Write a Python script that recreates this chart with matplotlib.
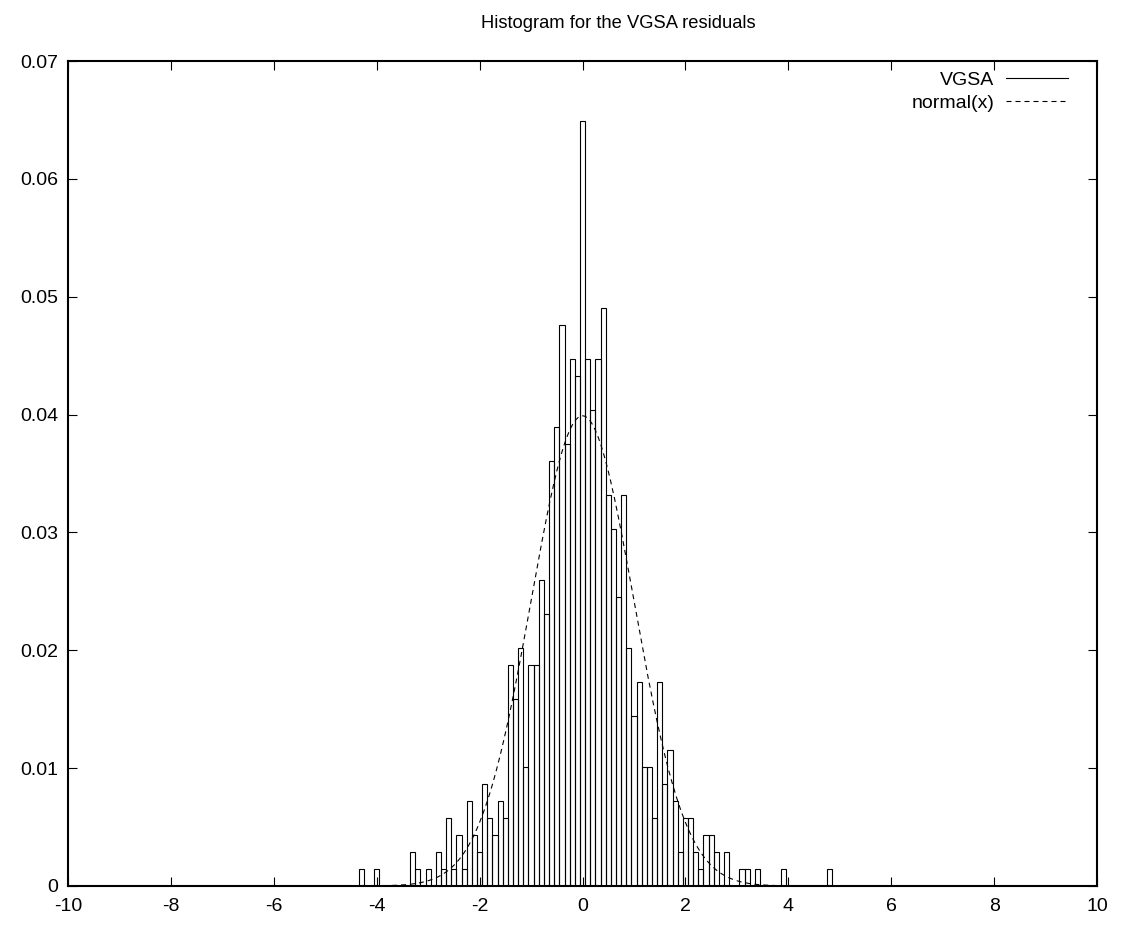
import numpy as np
import matplotlib
matplotlib.use('Agg')
import matplotlib.pyplot as plt
from matplotlib.lines import Line2D

# histogram of the VGSA residuals (bin centres, counts per bin of width 0.1)
bin_centers = [-4.3, -4.0, -3.3, -3.2, -3.0, -2.8, -2.7, -2.6, -2.5, -2.4,
               -2.3, -2.2, -2.1, -2.0, -1.9, -1.8, -1.7, -1.6, -1.5, -1.4,
               -1.3, -1.2, -1.1, -1.0, -0.9, -0.8, -0.7, -0.6, -0.5, -0.4,
               -0.3, -0.2, -0.1, 0.0, 0.1, 0.2, 0.3, 0.4, 0.5, 0.6,
               0.7, 0.8, 0.9, 1.0, 1.1, 1.2, 1.3, 1.4, 1.5, 1.6,
               1.7, 1.8, 1.9, 2.0, 2.1, 2.2, 2.3, 2.4, 2.5, 2.6,
               2.8, 3.1, 3.2, 3.4, 3.9, 4.8]
bin_counts = [1, 1, 2, 1, 1, 2, 1, 4, 1, 3,
              1, 5, 3, 2, 6, 4, 3, 5, 4, 13,
              11, 14, 7, 13, 13, 18, 16, 25, 27, 33,
              26, 31, 30, 45, 31, 28, 31, 34, 23, 21,
              17, 23, 14, 10, 12, 7, 7, 4, 12, 6,
              8, 5, 2, 4, 4, 2, 1, 3, 3, 2,
              2, 1, 1, 1, 1, 1]
bin_width = 0.1

# normal(x): standard normal density times the bin width
mu = 0.0
sigma = 1.0

x_ticks = [-10, -8, -6, -4, -2, 0, 2, 4, 6, 8, 10]
y_ticks = [0, 0.01, 0.02, 0.03, 0.04, 0.05, 0.06, 0.07]

plt.rcParams['font.family'] = ['Liberation Sans Narrow', 'Liberation Sans', 'DejaVu Sans']
fs = 14
title_fs = 13.2

freq = np.array(bin_counts) / float(sum(bin_counts))

fig = plt.figure(figsize=(11.3, 9.32), dpi=100)
ax = fig.add_axes([0.0602, 0.0494, 0.9106, 0.8851])

ax.bar(bin_centers, freq, width=bin_width, fill=False,
       edgecolor='black', linewidth=0.8)

xs = np.linspace(-10, 10, 801)
normal = bin_width * np.exp(-0.5 * ((xs - mu) / sigma) ** 2) / (sigma * np.sqrt(2 * np.pi))
ax.plot(xs, normal, color='black', linewidth=0.8, linestyle=(0, (4.5, 3.6)))

ax.set_xlim(-10, 10)
ax.set_ylim(0, 0.07)
ax.set_xticks(x_ticks)
ax.set_xticklabels([str(t) for t in x_ticks])
ax.set_yticks(y_ticks)
ax.set_yticklabels(['0', '0.01', '0.02', '0.03', '0.04', '0.05', '0.06', '0.07'])
ax.tick_params(direction='in', length=6.5, width=0.8, top=True, right=True,
               labelsize=fs)
ax.tick_params(axis='x', pad=9)
ax.tick_params(axis='y', pad=7)
for s in ax.spines.values():
    s.set_linewidth(1.5)

ax.set_title('Histogram for the VGSA residuals', fontsize=title_fs, pad=24, x=0.5345)

handles = [Line2D([], [], color='black', linewidth=0.8),
           Line2D([], [], color='black', linewidth=0.8, linestyle=(0, (4.5, 3.6)))]
ax.legend(handles, ['VGSA', 'normal(x)'], loc='upper right', frameon=False,
          bbox_to_anchor=(0.972, 0.988), markerfirst=False,
          handlelength=3.2, handletextpad=0.6, labelspacing=0.3,
          borderaxespad=0, borderpad=0, fontsize=fs)

fig.savefig('out.png', dpi=100)
